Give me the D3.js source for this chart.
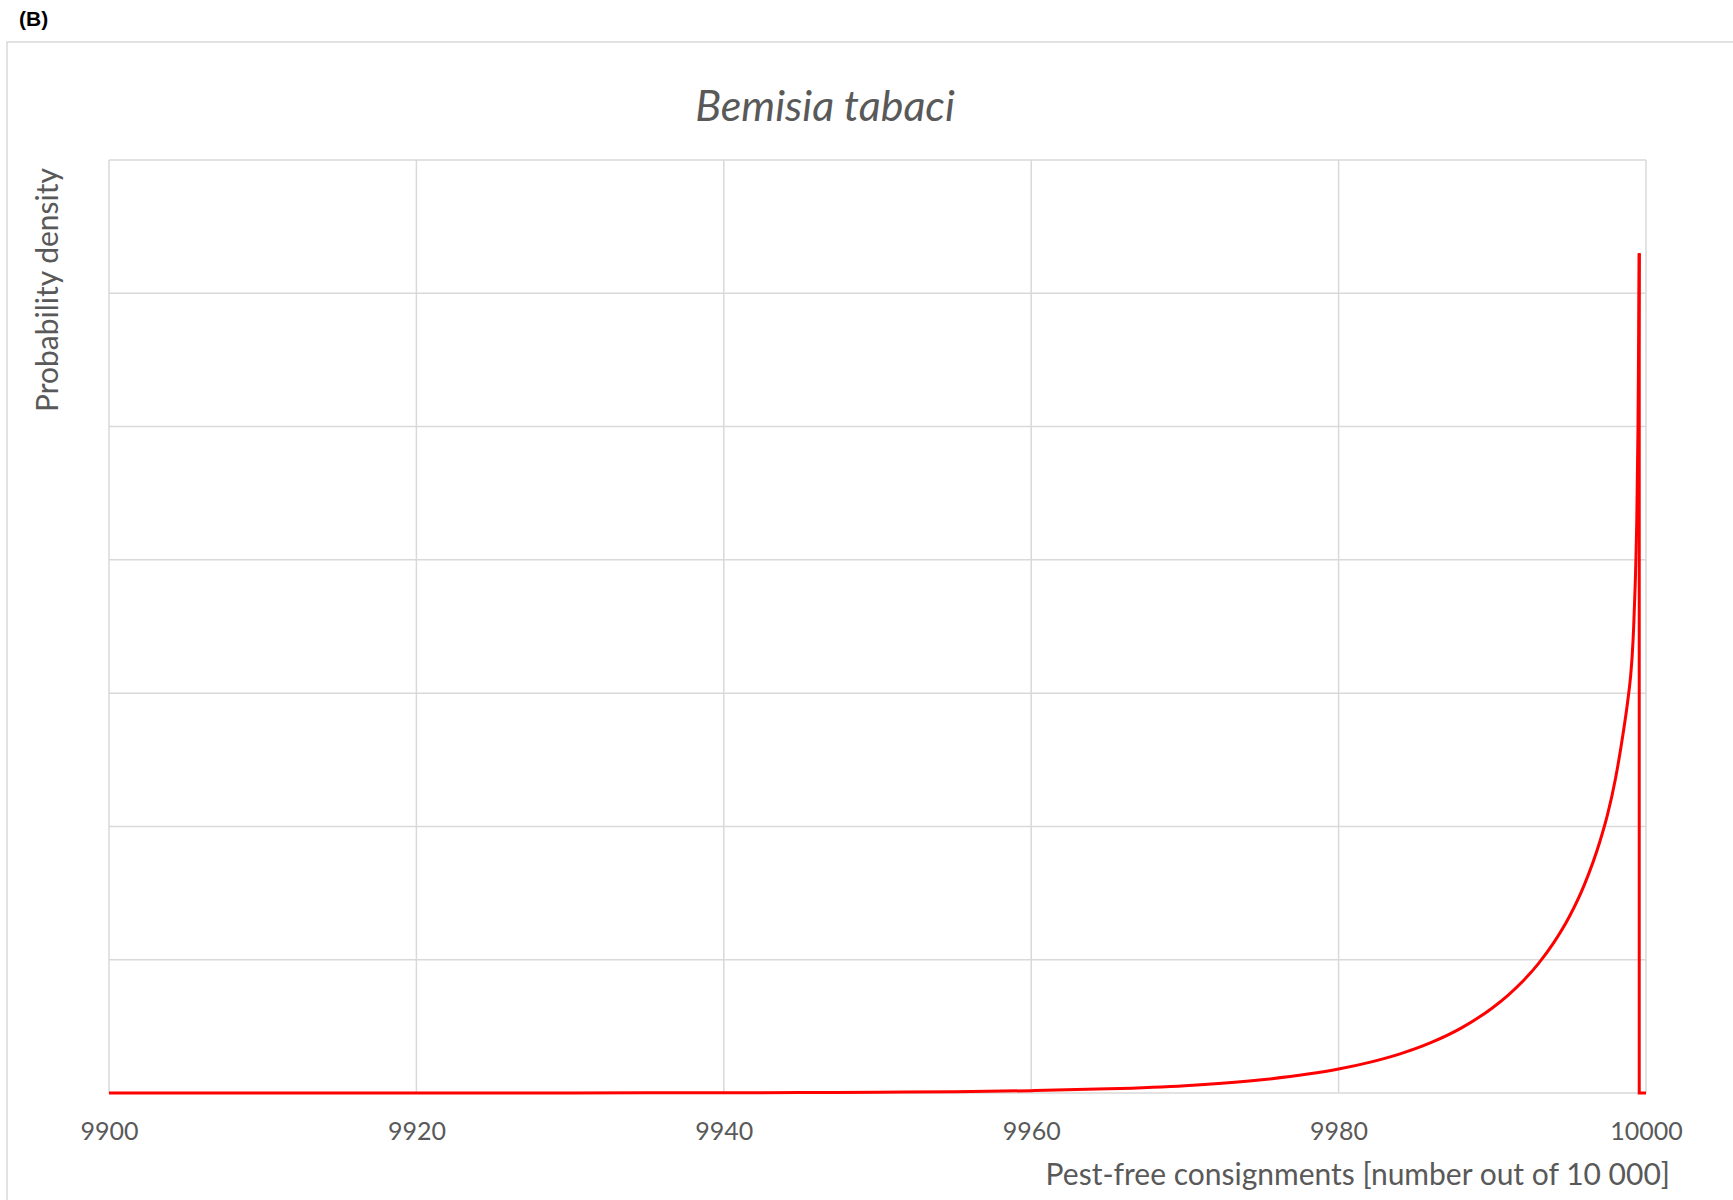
<!DOCTYPE html>
<html>
<head>
<meta charset="utf-8">
<script src="https://cdn.jsdelivr.net/npm/d3@7"></script>
<style>
  html, body { margin: 0; padding: 0; background: #ffffff; }
  svg { display: block; }
</style>
</head>
<body>
<svg id="chart" width="1733" height="1200"></svg>
<script>
// ---- data ----
const consignments = [9900, 9920, 9930, 9940, 9945, 9950, 9955, 9960, 9965, 9970, 9975, 9978,
  9980, 9982, 9984, 9986, 9988, 9990, 9991, 9992, 9993, 9994, 9995, 9996, 9997, 9997.5, 9998,
  9998.5, 9998.8, 9999, 9999.1, 9999.2, 9999.3, 9999.4, 9999.48, 9999.56];
const density = [0, 0.0002, 0.0006, 0.0018, 0.0032, 0.0056, 0.0099, 0.0174, 0.031, 0.055, 0.099, 0.142,
  0.18, 0.23, 0.294, 0.378, 0.489, 0.638, 0.731, 0.84, 0.971, 1.128, 1.32, 1.565, 1.887, 2.09, 2.35,
  2.69, 2.93, 3.13, 3.28, 3.5, 3.82, 4.3, 5.0, 6.3];
const tailX = [9999.56, 9999.56, 10000];
const tailY = [6.3, 0, 0];
const xTicks = [9900, 9920, 9940, 9960, 9980, 10000];
const yGridValues = [0, 1, 2, 3, 4, 5, 6, 7];
const chartTitle = "Bemisia tabaci";
const xTitle = "Pest-free consignments [number out of 10 000]";
const yTitle = "Probability density";
const panelLabel = "(B)";

(function () {
// ---- layout ----
const svg = d3.select("#chart");
const pLeft = 109, pRight = 1646, pTop = 160, pBottom = 1093;
const x = d3.scaleLinear().domain([9900, 10000]).range([pLeft, pRight]);
const y = d3.scaleLinear().domain([0, 7]).range([pBottom, pTop]);
const grid = "#d9d9d9";
const textCol = "#595959";
const font = "Lato, 'Open Sans', sans-serif";

// outer frame
svg.append("rect").attr("x", 7).attr("y", 42).attr("width", 1760).attr("height", 1200)
  .attr("fill", "none").attr("stroke", grid).attr("stroke-width", 1.5);

svg.append("text").attr("x", 19).attr("y", 26).text(panelLabel)
  .attr("font-family", "'Liberation Sans', Arial, sans-serif").attr("font-weight", "bold")
  .attr("font-size", 21).attr("fill", "#000");

// gridlines
svg.append("g").selectAll("line").data(yGridValues).join("line")
  .attr("x1", pLeft).attr("x2", pRight).attr("y1", d => y(d)).attr("y2", d => y(d))
  .attr("stroke", grid).attr("stroke-width", 1.5);
svg.append("g").selectAll("line").data(xTicks).join("line")
  .attr("x1", d => x(d)).attr("x2", d => x(d)).attr("y1", pTop).attr("y2", pBottom)
  .attr("stroke", grid).attr("stroke-width", 1.5);

// x axis labels
const xAxis = d3.axisBottom(x).tickValues(xTicks).tickSize(0).tickPadding(0).tickFormat(d3.format("d"));
const gx = svg.append("g").attr("transform", `translate(0,${pBottom})`).call(xAxis);
gx.select(".domain").remove();
gx.selectAll("text").attr("font-family", font).attr("font-size", 25).attr("fill", textCol)
  .attr("dy", null).attr("y", 47);

// curve
const line = d3.line().x(d => x(d[0])).y(d => y(d[1])).curve(d3.curveMonotoneX);
svg.append("path").datum(consignments.map((c, i) => [c, density[i]]))
  .attr("d", line).attr("fill", "none").attr("stroke", "#ff0000").attr("stroke-width", 3)
  .attr("stroke-linejoin", "round");
const tail = d3.line().x(d => x(d[0])).y(d => y(d[1]));
svg.append("path").datum(tailX.map((c, i) => [c, tailY[i]]))
  .attr("d", tail).attr("fill", "none").attr("stroke", "#ff0000").attr("stroke-width", 3);

// titles
svg.append("text").attr("x", 825).attr("y", 121).attr("text-anchor", "middle")
  .attr("font-family", font).attr("font-style", "italic").attr("font-size", 43)
  .attr("fill", textCol).text(chartTitle);
svg.append("text").attr("x", 1670).attr("y", 1185).attr("text-anchor", "end")
  .attr("font-family", font).attr("font-size", 30).attr("fill", textCol).text(xTitle);
svg.append("text").attr("transform", "translate(58,290) rotate(-90)").attr("text-anchor", "middle")
  .attr("font-family", font).attr("font-size", 30).attr("fill", textCol).text(yTitle);
})();
</script>
</body>
</html>
